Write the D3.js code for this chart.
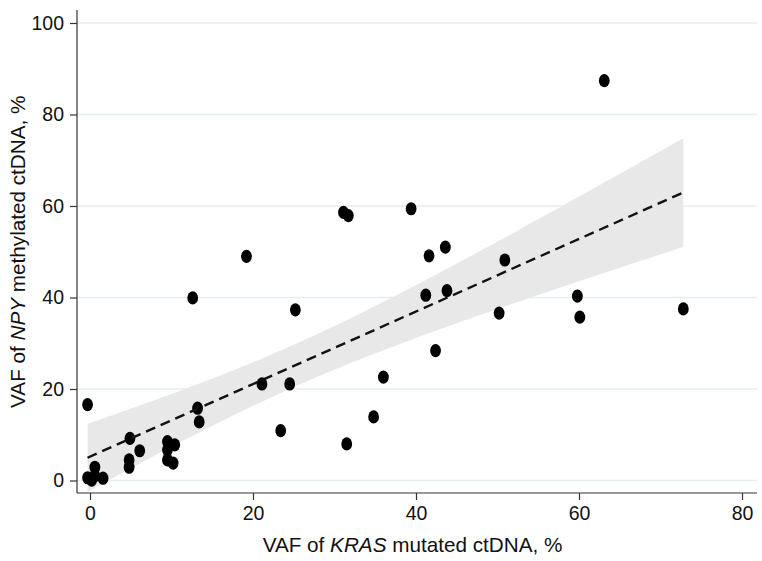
<!DOCTYPE html>
<html>
<head>
<meta charset="utf-8">
<script src="https://cdn.jsdelivr.net/npm/d3@7"></script>
<style>
  html, body { margin: 0; padding: 0; background: #fff; }
  svg { display: block; font-family: "Liberation Sans", Arial, sans-serif; }
</style>
</head>
<body>
<svg id="chart" width="762" height="561"></svg>
<script>
// KRAS mutated ctDNA VAF (%)
const krasVAF = [-0.3, -0.3, 0.6, 0.6, 1.6, 0.2, 4.9, 6.1, 4.8, 4.8, 13.2, 13.4, 9.5, 9.5, 9.5,
  10.4, 10.2, 12.6, 19.2, 21.1, 24.5, 25.2, 23.4, 31.1, 31.7, 31.5, 36.0, 34.8, 39.4, 41.6,
  43.6, 41.2, 43.8, 42.4, 50.9, 50.2, 59.8, 60.1, 72.8, 63.1];
// NPY methylated ctDNA VAF (%)
const npyVAF = [16.6, 0.6, 2.9, 1.0, 0.5, 0.1, 9.2, 6.5, 4.5, 2.9, 15.8, 12.8, 8.5, 6.7, 4.5,
  7.8, 3.8, 39.9, 49.0, 21.1, 21.1, 37.3, 10.9, 58.6, 57.9, 8.0, 22.6, 13.9, 59.4, 49.1,
  51.0, 40.5, 41.5, 28.4, 48.2, 36.6, 40.3, 35.7, 37.5, 87.4];
const xTicks = [0, 20, 40, 60, 80];
const yTicks = [0, 20, 40, 60, 80, 100];
const tCrit95 = 2.024; // t(0.975, n-2)

const svg = d3.select("#chart");
const x = d3.scaleLinear().domain([0, 80]).range([90, 742]);
const y = d3.scaleLinear().domain([0, 100]).range([480.5, 23]);
const plotLeft = 77, plotRight = 757, plotBottom = 493, plotTop = 10;

// gridlines
svg.append("g").selectAll("line").data(yTicks).join("line")
  .attr("x1", plotLeft).attr("x2", plotRight)
  .attr("y1", d => y(d)).attr("y2", d => y(d))
  .attr("stroke", "#e4eeee").attr("stroke-width", 1.3);

// linear fit with 95% CI (computed from the data)
const n = krasVAF.length;
const mx = d3.mean(krasVAF), my = d3.mean(npyVAF);
let sxx = 0, sxy = 0;
for (let i = 0; i < n; i++) { sxx += (krasVAF[i] - mx) ** 2; sxy += (krasVAF[i] - mx) * (npyVAF[i] - my); }
const slope = sxy / sxx, icpt = my - slope * mx;
let sse = 0;
for (let i = 0; i < n; i++) { sse += (npyVAF[i] - icpt - slope * krasVAF[i]) ** 2; }
const s = Math.sqrt(sse / (n - 2));
const [xmin, xmax] = d3.extent(krasVAF);
const xs = d3.range(0, 101).map(i => xmin + (xmax - xmin) * i / 100);
const band = xs.map(v => {
  const f = icpt + slope * v;
  const h = tCrit95 * s * Math.sqrt(1 / n + (v - mx) ** 2 / sxx);
  return { v, f, lo: f - h, hi: f + h };
});
svg.append("path").datum(band)
  .attr("d", d3.area().x(d => x(d.v)).y0(d => y(d.lo)).y1(d => y(d.hi)))
  .attr("fill", "#e8e8e8");

// points
svg.append("g").selectAll("ellipse").data(krasVAF.map((v, i) => [v, npyVAF[i]])).join("ellipse")
  .attr("cx", d => x(d[0])).attr("cy", d => y(d[1]))
  .attr("rx", 5.4).attr("ry", 6.6).attr("fill", "#000");

// fit line
svg.append("path").datum([band[0], band[band.length - 1]])
  .attr("d", d3.line().x(d => x(d.v)).y(d => y(d.f)))
  .attr("fill", "none").attr("stroke", "#111").attr("stroke-width", 2.4)
  .attr("stroke-dasharray", "10,6");

// axes
const xAxis = svg.append("g").attr("transform", `translate(0,${plotBottom})`)
  .call(d3.axisBottom(x).tickValues(xTicks).tickSize(7).tickPadding(6).tickSizeOuter(0));
xAxis.select(".domain").attr("d", `M${plotLeft},0H${plotRight}`);
const yAxis = svg.append("g").attr("transform", `translate(${plotLeft},0)`)
  .call(d3.axisLeft(y).tickValues(yTicks).tickSize(7).tickPadding(6).tickSizeOuter(0));
yAxis.select(".domain").attr("d", `M0,${plotTop}V${plotBottom}`);
[xAxis, yAxis].forEach(a => {
  a.selectAll("path,line").attr("stroke", "#333").attr("stroke-width", 1.2);
  a.selectAll("text").attr("font-size", 19.5).attr("fill", "#111")
    .attr("font-family", "'Liberation Sans', Arial, sans-serif");
});

// axis titles
const xt = svg.append("text").attr("x", 412.5).attr("y", 552).attr("text-anchor", "middle")
  .attr("font-size", 20.7).attr("fill", "#111");
xt.append("tspan").text("VAF of ");
xt.append("tspan").attr("font-style", "italic").text("KRAS");
xt.append("tspan").text(" mutated ctDNA, %");

const yt = svg.append("text").attr("transform", `translate(25,${(y(0) + y(100)) / 2}) rotate(-90)`)
  .attr("text-anchor", "middle").attr("font-size", 20.7).attr("fill", "#111");
yt.append("tspan").text("VAF of ");
yt.append("tspan").attr("font-style", "italic").text("NPY");
yt.append("tspan").text(" methylated ctDNA, %");
</script>
</body>
</html>
